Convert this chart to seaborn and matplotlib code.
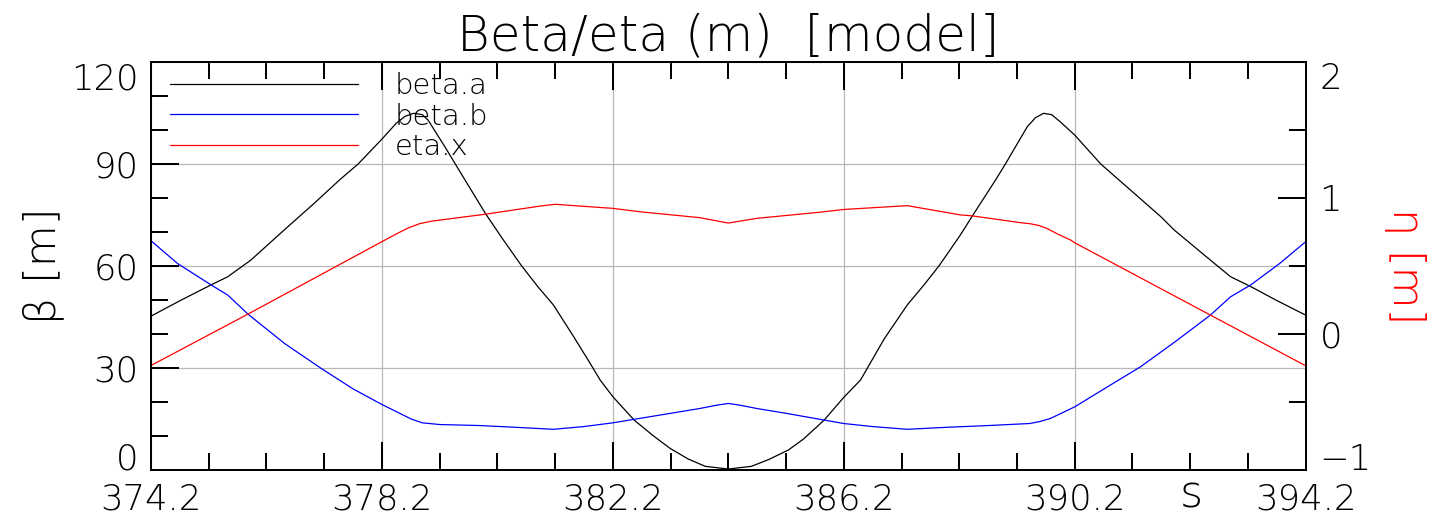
import numpy as np
import pandas as pd
import matplotlib
matplotlib.use("Agg")
import matplotlib.pyplot as plt
import seaborn as sns
from matplotlib.ticker import FixedLocator

# ---------------- data ----------------
s_beta_a = [374.2, 374.72, 375.24, 375.53, 375.93, 376.51, 377.0, 377.48, 377.79, 378.2,
            378.45, 378.6, 378.75, 378.9, 379.0, 379.3, 379.585, 379.99, 380.28, 380.62,
            380.9, 381.17, 381.52, 381.8, 381.98, 382.2, 382.57, 382.9, 383.19, 383.5,
            383.8, 384.2, 384.6, 384.9, 385.24, 385.5, 385.86, 386.2, 386.49, 386.9,
            387.3, 387.58, 387.85, 388.22, 388.42, 388.83, 389.0, 389.38, 389.52, 389.66,
            389.8, 389.95, 390.2, 390.65, 391.2, 391.69, 391.92, 392.5, 392.9, 393.25,
            393.7, 394.2]
beta_a = [45.2, 49.9, 54.4, 56.8, 61.7, 70.6, 78.0, 85.5, 90.0, 97.3,
          102.0, 104.0, 104.9, 104.5, 102.9, 94.8, 86.8, 75.5, 68.2, 60.0,
          53.9, 48.5, 39.2, 31.5, 26.4, 21.5, 14.6, 10.0, 6.3, 3.2,
          1.0, 0.2, 1.0, 3.0, 5.8, 9.0, 14.6, 21.3, 26.4, 38.5,
          48.5, 54.2, 60.0, 69.1, 74.5, 85.3, 90.0, 101.0, 103.6, 104.9,
          104.5, 102.4, 98.5, 90.0, 81.8, 74.5, 70.6, 62.4, 56.8, 53.9,
          49.8, 45.5]

s_beta_b = [374.2, 374.66, 375.24, 375.53, 375.88, 376.51, 377.15, 377.7, 378.2, 378.71,
            378.9, 379.2, 379.9, 380.5, 381.17, 381.7, 382.2, 382.7, 383.2, 383.7,
            384.0, 384.2, 384.4, 384.7, 385.2, 385.7, 386.2, 386.7, 387.3, 388.0,
            388.7, 389.42, 389.6, 389.78, 390.2, 390.7, 391.34, 391.95, 392.55, 392.9,
            393.25, 393.75, 394.2]
beta_b = [67.4, 60.7, 54.4, 51.4, 45.8, 37.2, 29.8, 23.8, 19.2, 14.9,
          13.8, 13.3, 13.0, 12.5, 11.9, 12.7, 13.8, 15.2, 16.6, 18.0,
          19.0, 19.5, 19.0, 18.0, 16.6, 15.1, 13.6, 12.7, 11.9, 12.5,
          13.0, 13.6, 14.2, 15.1, 18.5, 23.7, 30.3, 37.8, 45.5, 50.9,
          54.4, 60.7, 67.1]

s_eta_x = [374.2, 375.88, 378.2, 378.45, 378.65, 378.85, 379.05, 379.3, 379.99, 380.94,
           381.2, 382.2, 382.67, 383.7, 384.2, 384.7, 385.79, 386.2, 387.3, 388.22,
           388.42, 389.26, 389.43, 389.58, 389.72, 389.9, 390.13, 390.2, 392.55, 394.2]
eta_x = [-0.233, 0.145, 0.678, 0.735, 0.778, 0.810, 0.828, 0.842, 0.880, 0.940,
         0.953, 0.923, 0.898, 0.855, 0.815, 0.850, 0.895, 0.915, 0.943, 0.875,
         0.868, 0.818, 0.810, 0.797, 0.775, 0.735, 0.690, 0.670, 0.138, -0.235]

series_labels = ["beta.a", "beta.b", "eta.x"]
x_ticks = [374.2, 378.2, 382.2, 386.2, 390.2, 394.2]
x_tick_labels = ["374.2", "378.2", "382.2", "386.2", "390.2", "394.2"]
beta_ticks = [0, 30, 60, 90, 120]
beta_tick_labels = ["0", "30", "60", "90", "120"]
eta_ticks = [-1, 0, 1, 2]
eta_tick_labels = ["\u22121", "0", "1", "2"]

# ---------------- style ----------------
sns.set_theme(style="white")
plt.rcParams["font.family"] = ["DejaVu Sans"]
plt.rcParams["font.weight"] = "light"
plt.rcParams["text.color"] = "black"
plt.rcParams["axes.labelcolor"] = "black"
plt.rcParams["xtick.color"] = "black"
plt.rcParams["ytick.color"] = "black"
plt.rcParams["axes.titleweight"] = "light"
plt.rcParams["axes.labelweight"] = "light"

fig = plt.figure(figsize=(14.31, 5.18), dpi=100)
ax = fig.add_axes([0.1055, 0.0932, 0.8069, 0.7871])
ax2 = ax.twinx()

df_a = pd.DataFrame({"s": s_beta_a, "v": beta_a})
df_b = pd.DataFrame({"s": s_beta_b, "v": beta_b})
df_e = pd.DataFrame({"s": s_eta_x, "v": eta_x})

sns.lineplot(data=df_a, x="s", y="v", ax=ax, color="black", lw=0.9,
             sort=False, estimator=None, legend=False)
sns.lineplot(data=df_b, x="s", y="v", ax=ax, color="#0000ff", lw=0.9,
             sort=False, estimator=None, legend=False)
sns.lineplot(data=df_e, x="s", y="v", ax=ax2, color="#ff0000", lw=0.9,
             sort=False, estimator=None, legend=False)

ax.set_xlim(374.2, 394.2)
ax.set_ylim(0, 120)
ax2.set_ylim(-1, 2)

ax.set_xticks(x_ticks, labels=x_tick_labels)
ax.xaxis.set_minor_locator(FixedLocator(np.arange(374.2, 394.25, 1.0)))
ax.set_yticks(beta_ticks, labels=beta_tick_labels)
ax.yaxis.set_minor_locator(FixedLocator(np.arange(0, 121, 10)))
ax2.set_yticks(eta_ticks, labels=eta_tick_labels)
ax2.yaxis.set_minor_locator(FixedLocator(np.arange(-1, 2.01, 0.5)))

tick_w = 1.44
ax.tick_params(axis="x", which="major", direction="in", length=20, width=tick_w,
               top=True, bottom=True, labelsize=25.5, pad=9.4,
               colors="black")
ax.tick_params(axis="x", which="minor", direction="in", length=12.2, width=tick_w,
               top=True, bottom=True, colors="black")
ax.tick_params(axis="y", which="major", direction="in", length=20, width=tick_w,
               left=True, right=False, labelsize=25.5, pad=9.0, colors="black")
ax.tick_params(axis="y", which="minor", direction="in", length=12.2, width=tick_w,
               left=True, right=False, colors="black")
ax2.tick_params(axis="y", which="major", direction="in", length=20, width=tick_w,
                left=False, right=True, labelsize=25.5, pad=10.0, colors="black")
ax2.tick_params(axis="y", which="minor", direction="in", length=12.2, width=tick_w,
                left=False, right=True, colors="black")

# end labels sit inside the frame, as in the reference
for lbl in ax.get_yticklabels():
    if lbl.get_text() == "120":
        lbl.set_va("top")
    elif lbl.get_text() == "0":
        lbl.set_va("baseline")
for lbl in ax2.get_yticklabels():
    if lbl.get_text() == "2":
        lbl.set_va("top")
    elif lbl.get_text() == "\u22121":
        lbl.set_va("baseline")

for a in (ax, ax2):
    for sp in a.spines.values():
        sp.set_color("black")
        sp.set_linewidth(tick_w)

ax.set_axisbelow(True)
ax.grid(True, which="major", color="#b8b8b8", lw=0.9)

ax.set_title("Beta/eta (m)  [model]", fontsize=36, pad=8.6, color="black",
             fontweight="light")
ax.set_ylabel("β [m]", fontsize=31, labelpad=5, color="black", fontweight="light")
ax2.set_ylabel("η [m]", fontsize=31, color="#ff0000", rotation=270,
               va="bottom", labelpad=9, fontweight="light")
ax.set_xlabel("s", fontsize=32, color="black", fontweight="light")
ax.xaxis.set_label_coords(0.9007, -0.0925)
ax.xaxis.label.set_va("baseline")

handles = ax.get_lines()[:2] + ax2.get_lines()[:1]
leg = ax2.legend(handles, series_labels, loc="upper left",
                 bbox_to_anchor=(0.0165, 0.976), frameon=False, fontsize=21,
                 handlelength=6.44, handletextpad=1.25, labelspacing=0.096,
                 borderpad=0, borderaxespad=0)
for t in leg.get_texts():
    t.set_color("black")
    t.set_fontweight("light")

fig.savefig("out.png", dpi=100)
